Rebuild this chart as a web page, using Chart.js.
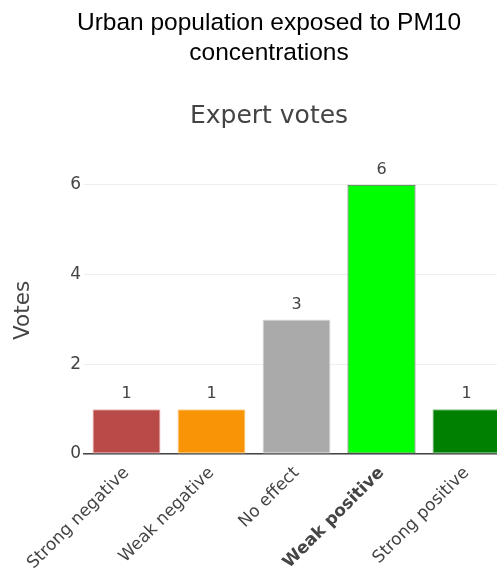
<!DOCTYPE html>
<html lang="en">
<head>
    <meta charset="UTF-8">
    <title>Expert votes</title>
    <script src="https://cdn.jsdelivr.net/npm/chart.js"></script>
    <style>
        html, body {
            margin: 0;
            padding: 0;
            overflow: hidden;
            background: #ffffff;
        }

        #wrap {
            width: 538px;
            height: 574px;
        }
    </style>
</head>
<body>

    <div id="wrap"><canvas id="votesChart"></canvas></div>

    <script>
        const categories = ['Strong negative', 'Weak negative', 'No effect', 'Weak positive', 'Strong positive'];
        const votes = [1, 1, 3, 6, 1];
        const barColors = ['#b94a48', '#f89406', '#aaaaaa', '#00ff00', '#008000'];
        const barLines = ['#e9b9b8', '#fcd49c', '#dddddd', '#555555', '#7fbf7f'];
        const yTicks = [0, 2, 4, 6];
        const highlighted = 'Weak positive';

        // value labels above each bar
        const barLabels = {
            id: 'barLabels',
            afterDatasetsDraw(chart) {
                const ctx = chart.ctx;
                const meta = chart.getDatasetMeta(0);
                ctx.save();
                ctx.fillStyle = '#444';
                ctx.font = '16px "DejaVu Sans"';
                ctx.textAlign = 'center';
                ctx.textBaseline = 'middle';
                meta.data.forEach((bar, i) => {
                    ctx.fillText(String(votes[i]), bar.x, bar.y - 15);
                });
                ctx.restore();
            }
        };

        const ctx = document.getElementById('votesChart').getContext('2d');
        new Chart(ctx, {
            type: 'bar',
            data: {
                labels: categories,
                datasets: [{
                    data: votes,
                    backgroundColor: barColors,
                    borderColor: barLines,
                    borderWidth: 1,
                    borderSkipped: false,
                    categoryPercentage: 1,
                    barPercentage: 0.8
                }]
            },
            options: {
                responsive: true,
                maintainAspectRatio: false,
                animation: false,
                layout: {
                    padding: 0
                },
                plugins: {
                    legend: { display: false },
                    tooltip: { enabled: false },
                    title: {
                        display: true,
                        text: ['Urban population exposed to PM10', 'concentrations'],
                        color: '#000',
                        font: { family: '"Liberation Sans", Arial, sans-serif', size: 24.5, weight: 'normal', lineHeight: 1.2 },
                        padding: { top: 9, bottom: 17 }
                    },
                    subtitle: {
                        display: true,
                        text: 'Expert votes',
                        color: '#444',
                        font: { family: '"DejaVu Sans"', size: 25, lineHeight: 1.2 },
                        padding: { top: 17, bottom: 35 }
                    }
                },
                scales: {
                    x: {
                        grid: { display: false, drawTicks: false },
                        border: { display: true, color: '#444', width: 1.5 },
                        afterFit: scale => { scale.height = 120; },
                        ticks: {
                            minRotation: 45,
                            maxRotation: 45,
                            padding: 9,
                            color: '#444',
                            font: ctx => ({
                                family: '"DejaVu Sans"',
                                size: 17,
                                weight: categories[ctx.index] === highlighted ? 'bold' : 'normal'
                            })
                        }
                    },
                    y: {
                        min: 0,
                        max: 6.4,
                        afterBuildTicks: scale => {
                            scale.ticks = yTicks.map(v => ({ value: v }));
                        },
                        afterFit: scale => { scale.width = 84; },
                        grid: { color: '#eeeeee', drawTicks: false },
                        border: { display: false },
                        ticks: {
                            padding: 3,
                            color: '#444',
                            font: { family: '"DejaVu Sans"', size: 17 }
                        },
                        title: {
                            display: true,
                            text: 'Votes',
                            color: '#444',
                            font: { family: '"DejaVu Sans"', size: 21.5, lineHeight: 1.2 },
                            padding: { top: 10.5, bottom: 0 }
                        }
                    },
                    // empty right margin so the plot ends before the canvas edge
                    margin: {
                        position: 'right',
                        display: true,
                        grid: { display: false },
                        border: { display: false },
                        ticks: { display: false },
                        afterFit: scale => { scale.width = 29; }
                    }
                }
            },
            plugins: [barLabels]
        });
    </script>
</body>
</html>
